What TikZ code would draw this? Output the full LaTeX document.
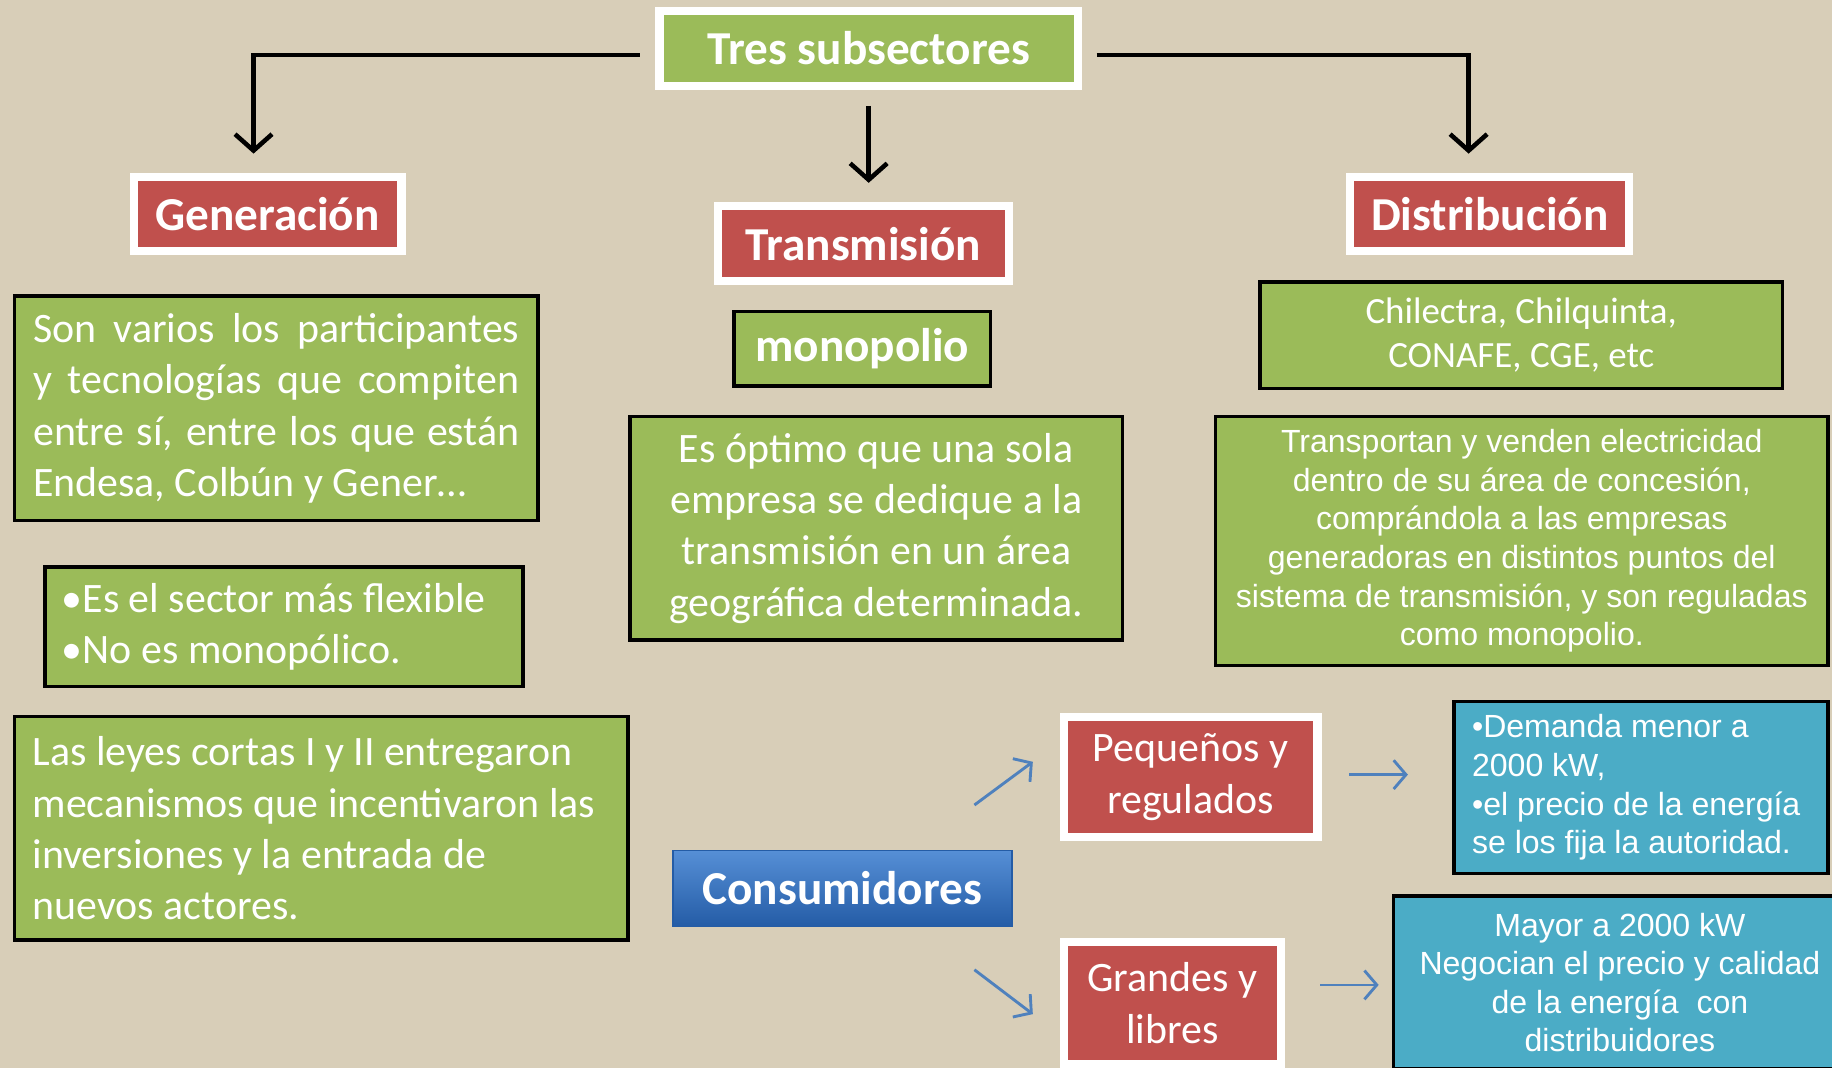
\documentclass[tikz,border=0pt]{standalone}
\usepackage{fontspec}
\setmainfont{Carlito}
\newfontfamily\arialfont{Liberation Sans}
\usetikzlibrary{arrows.meta}

\definecolor{fondo}{RGB}{216,206,184}
\definecolor{verde}{RGB}{155,187,89}
\definecolor{rojo}{RGB}{192,80,77}
\definecolor{turquesa}{RGB}{75,172,198}
\definecolor{azularr}{RGB}{79,129,189}
\definecolor{azulsup}{RGB}{86,143,214}
\definecolor{azulinf}{RGB}{36,92,166}

% one justified line of the first green box
\newcommand{\jline}[1]{\makebox[4.16cm][s]{#1}}
% the font's own word space in left aligned boxes
\newcommand{\espacio}{\spaceskip=\fontdimen2\font\relax}

\begin{document}
\begin{tikzpicture}[x=0.01cm, y=-0.01cm,
	marco/.style={draw=white, line width=0.07cm, text=white, inner sep=0pt},
	cuadro/.style={fill=verde, draw=black, line width=0.03cm, text=white, inner sep=0pt, font=\fontsize{10.2}{12.5}\selectfont},
	dato/.style={fill=turquesa, draw=black, line width=0.03cm, text=white, inner sep=0pt, font=\arialfont\fontsize{7.7}{9.4}\selectfont},
	negrita/.style={font=\fontsize{11.5}{13}\selectfont\bfseries},
	flecha/.style={draw=black, line width=1.1pt, -{Straight Barb[length=4pt,width=9pt]}},
	flechita/.style={draw=azularr, line width=0.7pt, -{Straight Barb[length=3pt,width=7pt]}}
]

	% background
	\useasboundingbox (0,0) rectangle (1568,914);
	\clip (0,0) rectangle (1568,914);
	\fill[fondo] (0,0) rectangle (1568,914);

	% title and the three subsectors
	\node[marco, fill=verde, negrita, minimum width=3.58cm, minimum height=0.64cm] (tres) at (743.5,41.5) {Tres subsectores};
	\node[marco, fill=rojo, negrita, minimum width=2.29cm, minimum height=0.63cm] (gen) at (229,183) {Generación};
	\node[marco, fill=rojo, negrita, minimum width=2.49cm, minimum height=0.64cm] (trans) at (739,208.5) {Transmisión};
	\node[marco, fill=rojo, negrita, minimum width=2.39cm, minimum height=0.63cm] (dist) at (1275,183) {Distribución};

	% arrows from the title
	\draw[flecha, shorten <=0.135cm, shorten >=0.165cm] ([yshift=-0.055cm]tres.west) -| ([xshift=-0.12cm]gen.north);
	\draw[flecha, shorten <=0.135cm, shorten >=0.165cm] (tres.south) -- (tres.south |- trans.north);
	\draw[flecha, shorten <=0.125cm, shorten >=0.165cm] ([yshift=-0.055cm]tres.east) -| ([xshift=-0.18cm]dist.north);

	% generacion
	\node[cuadro, minimum width=4.48cm, minimum height=1.92cm, align=left] (gen1) at (236.5,349.5)
		{\jline{Son varios los participantes}\\\jline{y tecnologías que compiten}\\\jline{entre sí, entre los que están}\\\makebox[4.16cm][l]{Endesa, Colbún y Gener…}};
	\node[cuadro, minimum width=4.09cm, minimum height=1.02cm, text width=3.8cm, align=left] (gen2) at (243,536.5)
		{\espacio •Es el sector más flexible\\•No es monopólico.};
	\node[cuadro, minimum width=5.25cm, minimum height=1.91cm, text width=4.94cm, align=left] (gen3) at (275,709)
		{\espacio Las leyes cortas I y II entregaron\\mecanismos que incentivaron las\\inversiones y la entrada de\\nuevos actores.};

	% transmision
	\node[cuadro, negrita, minimum width=2.19cm, minimum height=0.64cm] (mono) at (738,298.5) {monopolio};
	\node[cuadro, minimum width=4.21cm, minimum height=1.91cm, align=center] (transtxt) at (750,452)
		{Es óptimo que una sola\\empresa se dedique a la\\transmisión en un área\\geográfica determinada.};

	% distribucion
	\node[cuadro, font=\fontsize{9}{10.8}\selectfont, minimum width=4.47cm, minimum height=0.91cm, align=center] (chil) at (1302,287)
		{Chilectra, Chilquinta,\\CONAFE, CGE, etc};
	\node[cuadro, font=\arialfont\fontsize{7.8}{9.4}\selectfont, minimum width=5.24cm, minimum height=2.13cm, align=center] (disttxt) at (1302.5,463)
		{Transportan y venden electricidad\\dentro de su área de concesión,\\comprándola a las empresas\\generadoras en distintos puntos del\\sistema de transmisión, y son reguladas\\como monopolio.};

	% consumidores
	\node[draw=azulinf, line width=0.4pt, top color=azulsup, bottom color=azulinf, text=white, negrita, inner sep=0pt,
		minimum width=2.9cm, minimum height=0.65cm] (cons) at (721,760.5) {Consumidores\hspace{0.1cm}};
	\node[marco, fill=rojo, font=\fontsize{10.2}{12.5}\selectfont, minimum width=2.17cm, minimum height=1.03cm, align=center] (peq) at (1019,665)
		{Pequeños y\\regulados};
	\node[marco, fill=rojo, font=\fontsize{10.2}{12.5}\selectfont, minimum width=1.86cm, minimum height=1.04cm, align=center] (gra) at (1003.5,858.5)
		{Grandes y\\libres};
	\node[dato, font=\arialfont\fontsize{7.8}{9.4}\selectfont, minimum width=3.2cm, minimum height=1.47cm, text width=2.89cm, align=left] (dem) at (1404.5,674)
		{\espacio •Demanda menor a\\2000 kW,\\•el precio de la energía\\se los fija la autoridad.};
	\node[dato, font=\arialfont\fontsize{7.8}{9.4}\selectfont, minimum width=3.87cm, minimum height=1.48cm, align=center] (may) at (1386.5,841)
		{Mayor a 2000 kW\\Negocian el precio y calidad\\de la energía\ \ con\\distribuidores};

	% small blue arrows
	\coordinate (a1s) at (834,689);
	\coordinate (a1e) at (884,652);
	\coordinate (a2s) at (834,830);
	\coordinate (a2e) at (884,868);
	\coordinate (a3s) at (1155,663);
	\coordinate (a3e) at (1205,663);
	\coordinate (a4s) at (1130,843);
	\coordinate (a4e) at (1180,843);
	\draw[flechita] (a1s) -- (a1e);
	\draw[flechita] (a2s) -- (a2e);
	\draw[flechita] (a3s) -- (a3e);
	\draw[flechita] (a4s) -- (a4e);

\end{tikzpicture}
\end{document}
